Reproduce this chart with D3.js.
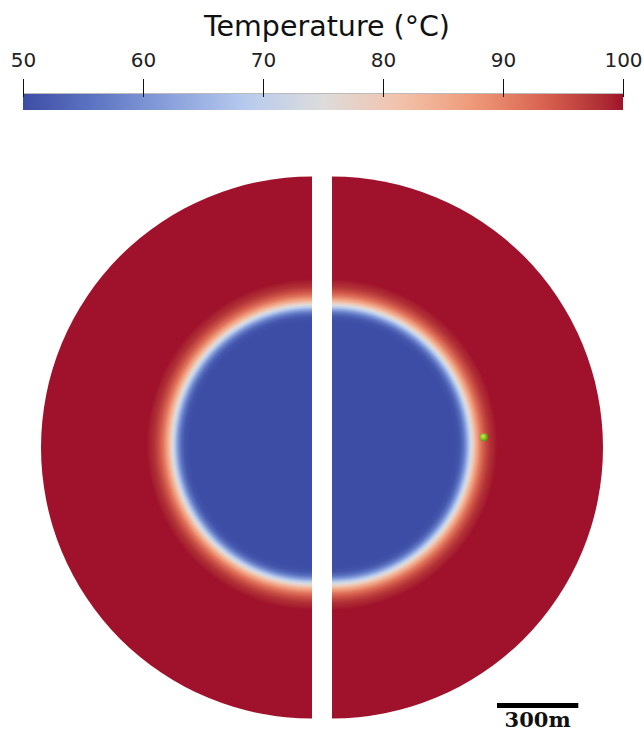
<!DOCTYPE html>
<html lang="en">
<head>
  <meta charset="UTF-8">
  <title>Temperature disk</title>
  <style>
body { margin: 0; background: #fff; }
svg { display: block; }
  </style>
</head>
<body>
<div id="wrapper"></div>
<script src="https://cdnjs.cloudflare.com/ajax/libs/d3/7.8.5/d3.min.js"></script>
<script>

// colour bar ticks (degC)
const tempTicks = [50, 60, 70, 80, 90, 100]
const tempDomain = [50, 100]

// cool-to-warm colour map, stops spread evenly over the temperature domain
const colorStops = ["#3d4da6", "#5f77c4", "#8ba3dd", "#b8cbee", "#dcdcdc",
                    "#f2c3ac", "#ee9a7a", "#d65f4e", "#a0122b"]

// radial temperature profile (radius in m, temp in degC)
const profileRadius = [0, 452, 470, 484, 497, 509, 520, 532, 547, 563, 583, 610, 1000]
const profileTemp   = [50, 50, 51, 55, 62, 71, 78, 85, 91, 95, 98, 100, 100]

// observation point (m from centre of right half, y up)
const wellX = [560]
const wellY = [38]

const scaleBarMeters = 300
const domainRadius = 1000

// dimensions
const dims = {
  width: 644,
  height: 733,
  barLeft: 23,
  barRight: 623,
  barTop: 93,
  barBottom: 110,
  diskCy: 447.5,
  diskR: 271,
  halfShift: 10,     // each half is pushed 10px away from the cut
  frontDy: -3        // warm front sits a touch north of centre
}
dims.diskCx = (dims.barLeft + dims.barRight) / 2 - 1

const wrapper = d3.select("#wrapper")
  .append("svg")
  .attr("width", dims.width)
  .attr("height", dims.height)

const defs = wrapper.append("defs")

// scales
const colorScale = d3.scaleLinear()
  .domain(d3.range(colorStops.length).map(i => tempDomain[0] + i * (tempDomain[1] - tempDomain[0]) / (colorStops.length - 1)))
  .range(colorStops)
  .interpolate(d3.interpolateLab)
  .clamp(true)

const barScale = d3.scaleLinear()
  .domain(tempDomain)
  .range([dims.barLeft, dims.barRight])

const rScale = d3.scaleLinear()
  .domain([0, domainRadius])
  .range([0, dims.diskR])

const profile = d3.scaleLinear()
  .domain(profileRadius)
  .range(profileTemp)
  .clamp(true)

// colour bar gradient
const barGrad = defs.append("linearGradient")
  .attr("id", "barGrad")
  .attr("x1", "0%").attr("x2", "100%")
  .attr("y1", "0%").attr("y2", "0%")

barGrad.selectAll("stop")
  .data(d3.ticks(tempDomain[0], tempDomain[1], 60))
  .join("stop")
  .attr("offset", d => (d - tempDomain[0]) / (tempDomain[1] - tempDomain[0]))
  .attr("stop-color", d => colorScale(d))

wrapper.append("rect")
  .attr("x", dims.barLeft)
  .attr("y", dims.barTop)
  .attr("width", dims.barRight - dims.barLeft)
  .attr("height", dims.barBottom - dims.barTop)
  .attr("fill", "url(#barGrad)")

wrapper.append("line")
  .attr("x1", dims.barLeft).attr("x2", dims.barRight)
  .attr("y1", dims.barTop + 0.5).attr("y2", dims.barTop + 0.5)
  .attr("stroke", "#bbb")
  .attr("stroke-width", 1)

const barAxis = wrapper.append("g")
  .attr("transform", `translate(0, ${dims.barTop + 4})`)
  .call(d3.axisTop(barScale).tickValues(tempTicks).tickSize(18).tickPadding(12))

barAxis.select(".domain").remove()
barAxis.selectAll(".tick line").attr("stroke", "#111")
barAxis.selectAll(".tick text")
  .attr("font-family", "DejaVu Sans")
  .attr("font-size", 20)
  .attr("fill", "#222")

wrapper.append("text")
  .attr("x", dims.diskCx + 5)
  .attr("y", 36)
  .attr("text-anchor", "middle")
  .attr("font-family", "DejaVu Sans")
  .attr("font-size", 28.5)
  .attr("fill", "#111")
  .text("Temperature (°C)")

// radial gradient for the disk, sampled from the profile
const diskGrad = defs.append("radialGradient")
  .attr("id", "diskGrad")
  .attr("gradientUnits", "userSpaceOnUse")
  .attr("cx", 0).attr("cy", dims.frontDy)
  .attr("fx", 0).attr("fy", dims.frontDy)
  .attr("r", dims.diskR)

diskGrad.selectAll("stop")
  .data(d3.range(0, domainRadius + 1, 5))
  .join("stop")
  .attr("offset", d => d / domainRadius)
  .attr("stop-color", d => colorScale(profile(d)))

const arc = d3.arc()
  .innerRadius(0)
  .outerRadius(rScale(domainRadius))

const halves = [
  { name: "west", start: Math.PI, end: 2 * Math.PI, cx: dims.diskCx - dims.halfShift },
  { name: "east", start: 0, end: Math.PI, cx: dims.diskCx + dims.halfShift }
]

wrapper.selectAll(".half")
  .data(halves)
  .join("path")
  .attr("class", "half")
  .attr("transform", d => `translate(${d.cx}, ${dims.diskCy})`)
  .attr("d", d => arc({ startAngle: d.start, endAngle: d.end }))
  .attr("fill", "url(#diskGrad)")

// observation point
const dotGrad = defs.append("radialGradient")
  .attr("id", "dotGrad")
  .attr("cx", "40%").attr("cy", "40%").attr("r", "60%")
dotGrad.append("stop").attr("offset", 0).attr("stop-color", "#c8f050")
dotGrad.append("stop").attr("offset", 1).attr("stop-color", "#5c9a10")

const east = halves[1]
wrapper.selectAll(".well")
  .data(wellX.map((x, i) => ({ x: x, y: wellY[i] })))
  .join("circle")
  .attr("class", "well")
  .attr("cx", d => east.cx + rScale(d.x))
  .attr("cy", d => dims.diskCy - rScale(d.y))
  .attr("r", 4)
  .attr("fill", "url(#dotGrad)")

// scale bar
const sbX = 497
wrapper.append("rect")
  .attr("x", sbX)
  .attr("y", 703)
  .attr("width", rScale(scaleBarMeters))
  .attr("height", 5)
  .attr("fill", "#000")

wrapper.append("text")
  .attr("x", sbX + rScale(scaleBarMeters) / 2)
  .attr("y", 727)
  .attr("text-anchor", "middle")
  .attr("font-family", "DejaVu Serif")
  .attr("font-weight", "bold")
  .attr("font-size", 21)
  .attr("fill", "#111")
  .text(scaleBarMeters + "m")

</script>
</body>
</html>
